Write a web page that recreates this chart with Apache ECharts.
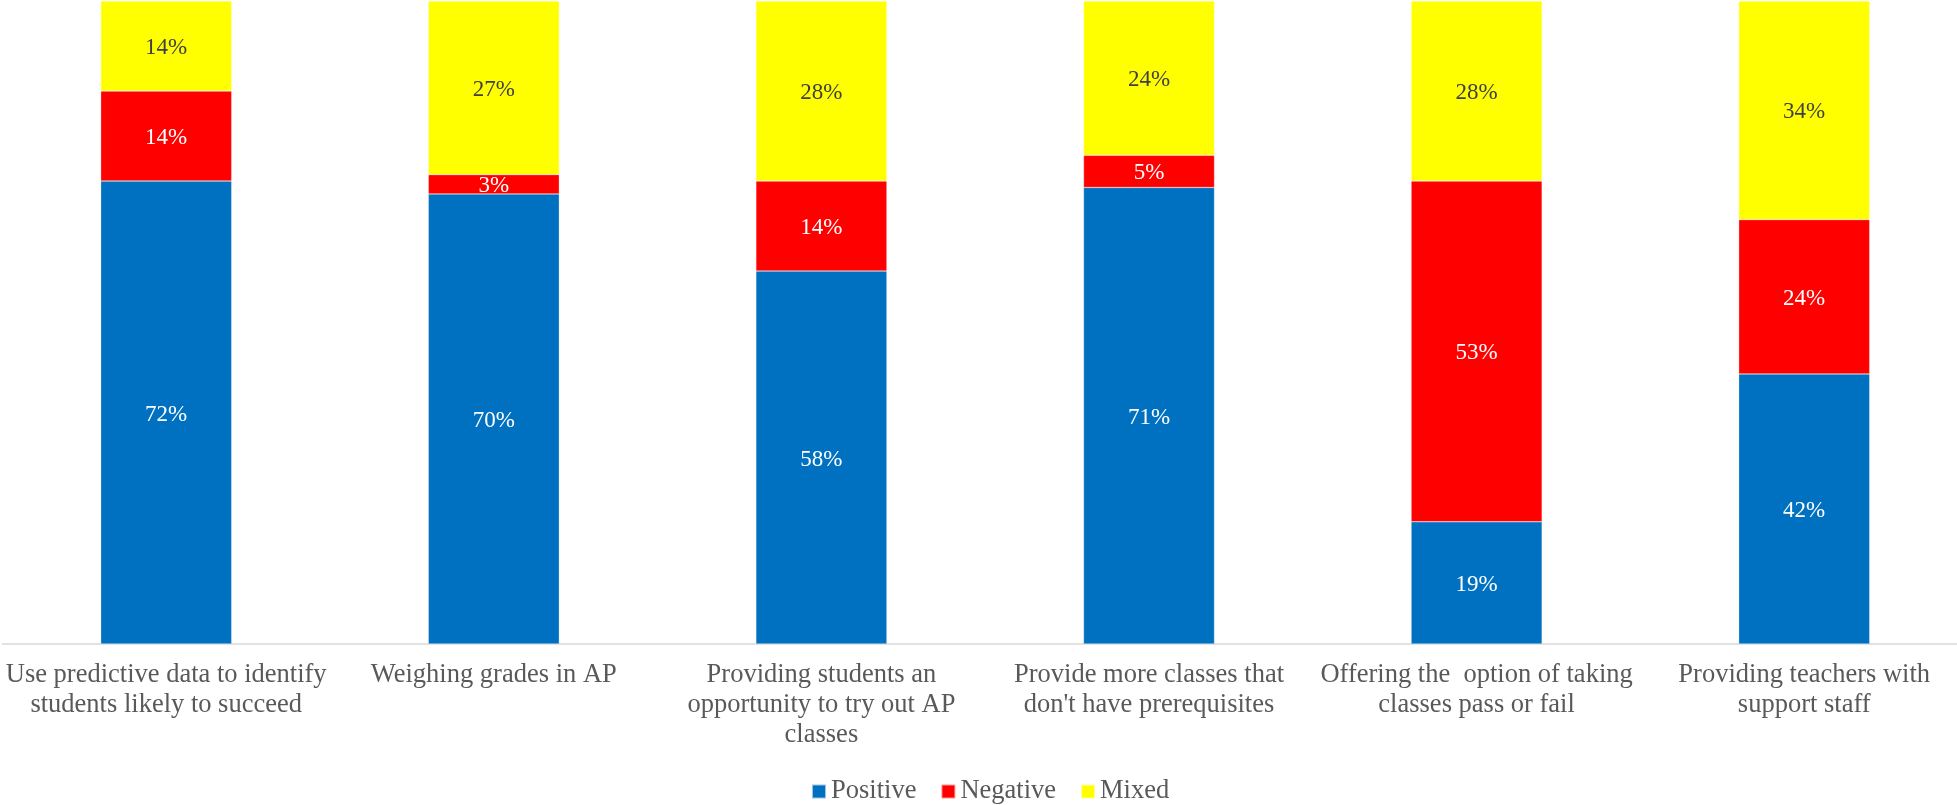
<!DOCTYPE html>
<html>
<head>
<meta charset="utf-8">
<script src="https://cdn.jsdelivr.net/npm/echarts@6/dist/echarts.min.js"></script>
<style>
  html, body { margin: 0; padding: 0; background: #fff; overflow: hidden; }
  /* plot area runs a few px past the right edge, as in the source picture */
  #chart { width: 1968px; height: 805px; }
</style>
</head>
<body>
<div id="chart"></div>
<script>
const categories = [
    "Use predictive data to identify\nstudents likely to succeed",
    "Weighing grades in AP",
    "Providing students an\nopportunity to try out AP\nclasses",
    "Provide more classes that\ndon't have prerequisites",
    "Offering the  option of taking\nclasses pass or fail",
    "Providing teachers with\nsupport staff"
];
const positive = [72, 70, 58, 71, 19, 42];
const negative = [14, 3, 14, 5, 53, 24];
const mixed = [14, 27, 28, 24, 28, 34];

const FONT = "'Liberation Serif', 'Times New Roman', serif";

function seriesOf(name, data, color, labelColor) {
    return {
        name: name,
        type: "bar",
        stack: "total",
        data: data,
        barWidth: 131,
        itemStyle: { color: color, borderColor: "rgba(255,255,255,0.6)", borderWidth: 0.5 },
        label: {
            show: true,
            position: "inside",
            offset: [0, 2],
            formatter: "{c}%",
            color: labelColor,
            fontFamily: FONT,
            fontSize: 23
        },
        emphasis: { disabled: true }
    };
}

const chart = echarts.init(document.getElementById("chart"));
chart.setOption({
    animation: false,
    grid: { left: 2.4, right: 0, top: 1, bottom: 161, containLabel: false },
    legend: {
        top: 773,
        left: 806,
        icon: "rect",
        itemWidth: 14,
        itemHeight: 14,
        itemGap: 24,
        textStyle: { color: "#595959", fontFamily: FONT, fontSize: 26.5 },
        data: ["Positive", "Negative", "Mixed"]
    },
    xAxis: {
        type: "category",
        data: categories,
        axisLine: { show: true, lineStyle: { color: "#d9d9d9", width: 1.5 } },
        axisTick: { show: false },
        axisLabel: {
            interval: 0,
            margin: 16,
            color: "#595959",
            fontFamily: FONT,
            fontSize: 26.5,
            lineHeight: 30
        }
    },
    yAxis: {
        type: "value",
        min: 0,
        max: 100,
        show: false,
        splitLine: { show: false }
    },
    series: [
        seriesOf("Positive", positive, "#0070C0", "#ffffff"),
        seriesOf("Negative", negative, "#FF0000", "#ffffff"),
        seriesOf("Mixed", mixed, "#FFFF00", "#404040")
    ]
});
</script>
</body>
</html>
